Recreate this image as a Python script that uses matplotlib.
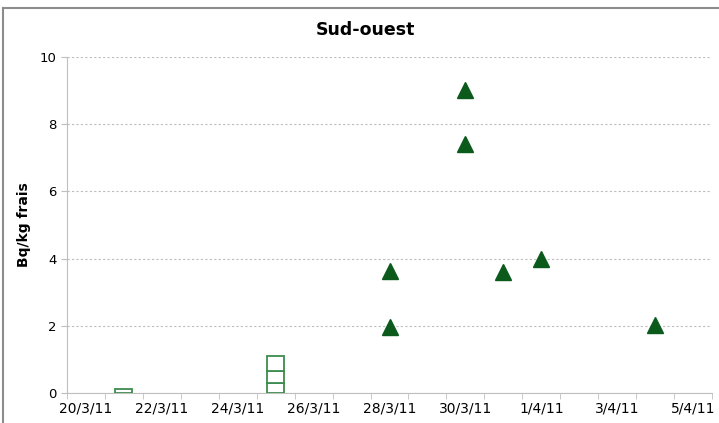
import matplotlib.pyplot as plt
from matplotlib.lines import Line2D
from datetime import date

plt.rcParams['font.family'] = ['DejaVu Sans']

start = date(2011, 3, 20)

# measurements (triangles)
tri_dates = [date(2011, 3, 28), date(2011, 3, 28), date(2011, 3, 30), date(2011, 3, 30),
             date(2011, 3, 31), date(2011, 4, 1), date(2011, 4, 4)]
tri_values = [3.63, 1.96, 9.03, 7.41, 3.60, 3.99, 2.02]

# stacked boxes (hollow bars)
box_dates = [date(2011, 3, 21), date(2011, 3, 25), date(2011, 3, 25), date(2011, 3, 25)]
box_values = [0.12, 0.30, 0.35, 0.45]

tick_labels = ["20/3/11", "22/3/11", "24/3/11", "26/3/11", "28/3/11",
               "30/3/11", "1/4/11", "3/4/11", "5/4/11"]

def day(d):
    return (d - start).days

fig = plt.figure(figsize=(7.19, 4.23), dpi=100)
ax = fig.add_axes([67/719, 30/423, 645/719, 336/423])

# stacked hollow boxes
bottoms = {}
for d, v in zip(box_dates, box_values):
    x = day(d)
    b = bottoms.get(x, 0)
    ax.bar(x, v, bottom=b, width=0.45, facecolor='white', edgecolor='#3d8b4e', linewidth=1.3, zorder=3)
    bottoms[x] = b + v

ax.plot([day(d) for d in tri_dates], tri_values, linestyle='none', marker='^',
        markersize=11.5, color='#0b5a1c', markeredgecolor='#0b5a1c', zorder=4)

ax.set_xlim(-0.5, 16.5)
ax.set_ylim(0, 10)
ax.set_yticks([0, 2, 4, 6, 8, 10])
ax.set_xticks(range(0, 17, 2))
ax.set_xticklabels(tick_labels)
ax.set_xticks([i - 0.5 for i in range(18)], minor=True)
ax.tick_params(axis='x', which='major', length=0, labelsize=10, pad=6)
ax.tick_params(axis='x', which='minor', length=4, color='#bfbfbf')
ax.tick_params(axis='y', length=4, color='#bfbfbf', labelsize=9.5)

ax.grid(axis='y', linestyle=(0, (2, 2)), color='#bdbdbd', linewidth=0.8)
ax.set_axisbelow(True)
for s in ['top', 'right']:
    ax.spines[s].set_visible(False)
for s in ['left', 'bottom']:
    ax.spines[s].set_color('#bfbfbf')

ax.set_ylabel("Bq/kg frais", fontsize=10, fontweight='bold', labelpad=6)
fig.text(365/719, 1 - 30/423, "Sud-ouest", fontsize=12.5, fontweight='bold',
         ha='center', va='center')

# outer chart border
fig.add_artist(Line2D([3/719, 1], [1 - 8/423, 1 - 8/423], color='#8c8c8c', linewidth=1.5))
fig.add_artist(Line2D([3/719, 3/719], [0, 1 - 8/423], color='#8c8c8c', linewidth=1.5))

fig.savefig("out.png", dpi=100)
